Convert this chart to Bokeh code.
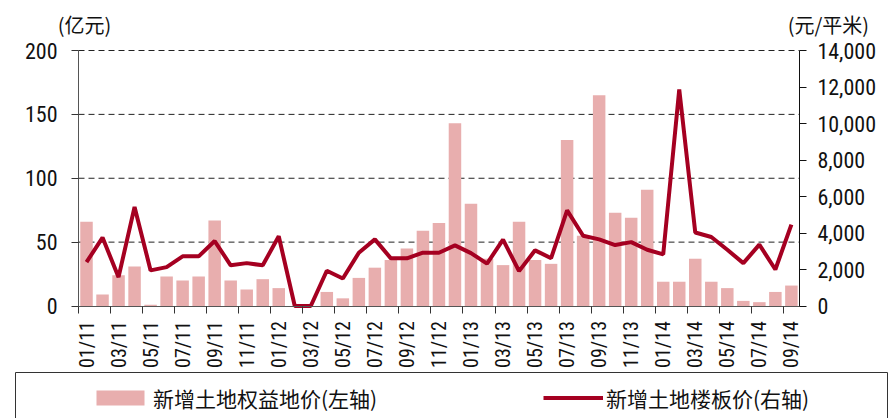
import math
from bokeh.plotting import figure
from bokeh.models import (Range1d, LinearAxis, FixedTicker, NumeralTickFormatter,
                          Legend, LegendItem, Label, BoxAnnotation, ColumnDataSource)
from bokeh.embed import file_html
from bokeh.resources import INLINE

months = ["01/11", "02/11", "03/11", "04/11", "05/11", "06/11", "07/11", "08/11", "09/11",
          "10/11", "11/11", "12/11",
          "01/12", "02/12", "03/12", "04/12", "05/12", "06/12", "07/12", "08/12", "09/12",
          "10/12", "11/12", "12/12",
          "01/13", "02/13", "03/13", "04/13", "05/13", "06/13", "07/13", "08/13", "09/13",
          "10/13", "11/13", "12/13",
          "01/14", "02/14", "03/14", "04/14", "05/14", "06/14", "07/14", "08/14", "09/14"]

# 新增土地权益地价 (亿元, left axis)
land_value = [66, 9, 24, 31, 1, 23, 20, 23, 67, 20, 13, 21,
              14, 0, 0, 11, 6, 22, 30, 36, 45, 59, 65, 143,
              80, 37, 32, 66, 36, 33, 130, 55, 165, 73, 69, 91,
              19, 19, 37, 19, 14, 4, 3, 11, 16]

# 新增土地楼板价 (元/平米, right axis)
floor_price = [2400, 3750, 1580, 5430, 1950, 2130, 2720, 2720, 3560, 2230, 2350, 2230,
               3820, 0, 0, 1930, 1510, 2920, 3650, 2610, 2610, 2920, 2920, 3320,
               2900, 2320, 3640, 1910, 3050, 2620, 5240, 3850, 3650, 3340, 3500, 3080,
               2830, 11870, 4030, 3780, 3080, 2350, 3360, 2000, 4460]

left_ticks = [0, 50, 100, 150, 200]
right_ticks = [0, 2000, 4000, 6000, 8000, 10000, 12000, 14000]

bar_label = "新增土地权益地价(左轴)"
line_label = "新增土地楼板价(右轴)"
left_unit = "(亿元)"
right_unit = "(元/平米)"

BAR_COLOR = "#E8AEAE"
LINE_COLOR = "#A50021"
NUM_FONT = "'Liberation Sans Narrow', 'Roboto Condensed', Roboto"
CJK_FONT = "Noto Sans CJK SC"

# ---- layout constants (canvas pixels) ----
W, H = 890, 418
X0_PX = 78.0          # canvas x of the left axis (category boundary -0.5)
MONTH_PX = 16.02      # width of one month
Y0_PX = 305.5         # canvas y of value 0
YTOP_PX = 50.0        # canvas y of top of axes
LMAX, RMAX = left_ticks[-1], right_ticks[-1]
n = len(months)
ppu = (Y0_PX - YTOP_PX) / LMAX

x = list(range(n))
src = ColumnDataSource(dict(x=x, v=land_value, p=floor_price))

x_rng = Range1d(-0.5 - X0_PX / MONTH_PX, -0.5 + (W - X0_PX) / MONTH_PX)
y_rng = Range1d(-(H - Y0_PX) / ppu, Y0_PX / ppu)
k = RMAX / LMAX

p = figure(width=W, height=H, output_backend="svg", toolbar_location=None,
           x_range=x_rng, y_range=y_rng,
           min_border_left=0, min_border_right=0, min_border_top=0, min_border_bottom=0)
p.outline_line_color = None
p.extra_y_ranges = {"r": Range1d(y_rng.start * k, y_rng.end * k)}
p.xgrid.visible = False
p.ygrid.visible = False

# dashed horizontal grid lines at left-axis ticks, spanning the axes only
grid_src = ColumnDataSource(dict(y=left_ticks[1:]))
p.segment(x0=-0.5, x1=n - 0.5, y0="y", y1="y", source=grid_src,
          line_color="#222222", line_dash="6 4", line_width=1)

bars = p.vbar(x="x", top="v", width=0.78, source=src, fill_color=BAR_COLOR, line_color=None)
line = p.line(x="x", y="p", source=src, y_range_name="r", line_color=LINE_COLOR, line_width=4)

# x axis: labels at every other month, ticks at category boundaries
xa = p.xaxis[0]
xa.fixed_location = 0
xa.bounds = (-0.5, n - 0.5)
xa.ticker = FixedTicker(ticks=x[::2], minor_ticks=[i - 0.5 for i in x[::2]])
xa.major_label_overrides = {i: months[i] for i in x[::2]}
xa.major_label_orientation = math.pi / 2
xa.major_tick_out = 0
xa.major_tick_in = 0
xa.minor_tick_out = 7
xa.minor_tick_in = 0
xa.minor_tick_line_color = "#333333"
xa.axis_line_color = "#555555"
xa.major_label_text_font = NUM_FONT
xa.major_label_text_font_size = "20px"
xa.major_label_text_color = "#111111"
xa.major_label_standoff = 8

ya = p.yaxis[0]
ya.fixed_location = -0.5
ya.bounds = (0, LMAX)
ya.ticker = FixedTicker(ticks=left_ticks)
ya.major_tick_out = 7
ya.major_tick_in = 0
ya.minor_tick_line_color = None
ya.axis_line_color = "#555555"
ya.major_tick_line_color = "#333333"
ya.major_label_text_font = NUM_FONT
ya.major_label_text_font_size = "22px"
ya.major_label_text_color = "#111111"
ya.major_label_standoff = 14

ra = LinearAxis(y_range_name="r", ticker=FixedTicker(ticks=right_ticks),
                formatter=NumeralTickFormatter(format="0,0"))
ra.fixed_location = n - 0.5
ra.bounds = (0, RMAX)
ra.major_tick_out = 7
ra.major_tick_in = 0
ra.minor_tick_line_color = None
ra.axis_line_color = "#111111"
ra.major_tick_line_color = "#111111"
ra.major_label_text_font = NUM_FONT
ra.major_label_text_font_size = "22px"
ra.major_label_text_color = "#111111"
ra.major_label_standoff = 11
p.add_layout(ra, "right")

# unit labels
p.add_layout(Label(x=-0.5, y=LMAX, x_offset=6, y_offset=12, text=left_unit,
                   text_align="center", text_baseline="bottom",
                   text_font=CJK_FONT, text_font_size="20px", text_color="#111111"))
p.add_layout(Label(x=n - 0.5, y=LMAX, x_offset=29, y_offset=12,
                   text=right_unit, text_align="center", text_baseline="bottom",
                   text_font=CJK_FONT, text_font_size="20px", text_color="#111111"))

# legend
legend = Legend(items=[LegendItem(label=bar_label, renderers=[bars]),
                       LegendItem(label=line_label, renderers=[line])],
                orientation="horizontal", location=(85, 0.5),
                glyph_width=60, glyph_height=19, label_height=19, label_width=380,
                spacing=10, label_standoff=3, padding=5, margin=0,
                border_line_alpha=0, background_fill_alpha=0,
                label_text_font=CJK_FONT, label_text_font_size="21px",
                label_text_color="#111111")
p.add_layout(legend, "center")

p.add_layout(BoxAnnotation(left=15, right=887, top=372, bottom=440,
                           left_units="canvas", right_units="canvas",
                           top_units="canvas", bottom_units="canvas",
                           fill_alpha=0, line_color="#333333", line_width=1, line_alpha=1))

open("out.html", "w").write(file_html(p, INLINE))
